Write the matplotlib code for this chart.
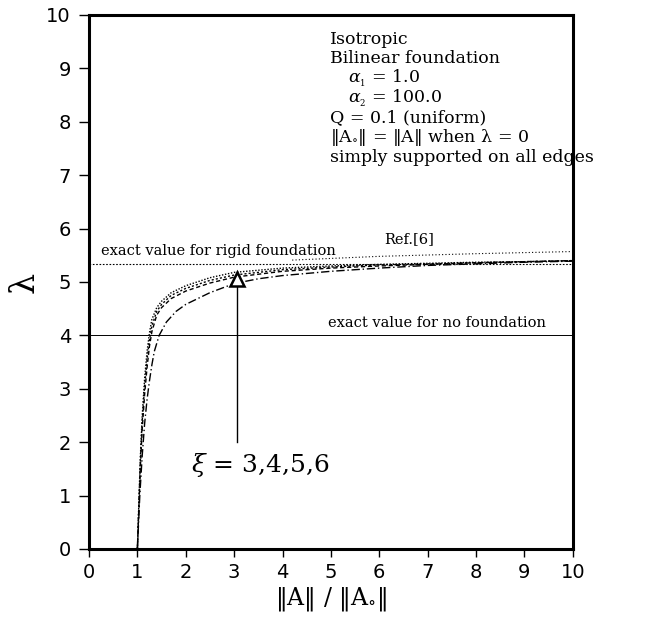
import matplotlib
matplotlib.use("Agg")
import matplotlib.pyplot as plt

plt.rcParams["mathtext.fontset"] = "dejavuserif"

# lambda vs ||A||/||A0|| for xi = 3,4,5,6
X6 = [1.0, 1.03, 1.06, 1.1, 1.15, 1.2, 1.25, 1.3, 1.4, 1.5, 1.7, 2.0, 2.5, 3.0, 4.0, 5.0, 6.0, 7.0, 8.0, 9.0, 10.0]
Y6 = [0.0, 0.85, 1.7, 2.5, 3.2, 3.7, 4.05, 4.3, 4.52, 4.64, 4.8, 4.93, 5.08, 5.18, 5.26, 5.3, 5.33, 5.35, 5.37, 5.38, 5.4]
X5 = [1.0, 1.03, 1.06, 1.1, 1.15, 1.2, 1.25, 1.3, 1.4, 1.5, 1.7, 2.0, 2.5, 3.0, 4.0, 5.0, 6.0, 7.0, 8.0, 9.0, 10.0]
Y5 = [0.0, 0.8, 1.6, 2.4, 3.05, 3.55, 3.92, 4.18, 4.45, 4.58, 4.75, 4.88, 5.03, 5.13, 5.23, 5.28, 5.32, 5.34, 5.36, 5.38, 5.4]
X4 = [1.0, 1.03, 1.06, 1.1, 1.15, 1.2, 1.25, 1.3, 1.4, 1.5, 1.7, 2.0, 2.5, 3.0, 4.0, 5.0, 6.0, 7.0, 8.0, 9.0, 10.0]
Y4 = [0.0, 0.75, 1.5, 2.25, 2.9, 3.4, 3.8, 4.07, 4.38, 4.52, 4.69, 4.83, 4.98, 5.09, 5.2, 5.26, 5.3, 5.33, 5.36, 5.38, 5.4]
X3 = [1.0, 1.05, 1.1, 1.15, 1.2, 1.25, 1.3, 1.35, 1.45, 1.6, 1.8, 2.0, 2.5, 3.0, 3.5, 4.0, 5.0, 6.0, 7.0, 8.0, 9.0, 10.0]
Y3 = [0.0, 1.0, 1.75, 2.35, 2.8, 3.15, 3.45, 3.7, 4.0, 4.25, 4.45, 4.58, 4.8, 4.97, 5.06, 5.12, 5.2, 5.26, 5.31, 5.34, 5.37, 5.39]

REF6_X = [4.2, 6.0, 8.0, 10.0]
REF6_Y = [5.41, 5.48, 5.53, 5.57]
RIGID = 5.33
NO_FOUNDATION = 4.0
TICKS = list(range(11))

SERIF = "DejaVu Serif"

fig = plt.figure(figsize=(6.45, 6.22), dpi=100)
ax = fig.add_axes([0.138, 0.1174, 0.750, 0.8585])

ax.plot([0, 10], [RIGID, RIGID], color="black", lw=0.8, ls=(0, (1.5, 1.5)))
ax.plot([0, 10], [NO_FOUNDATION, NO_FOUNDATION], color="black", lw=0.7)
ax.plot(REF6_X, REF6_Y, color="black", lw=0.8, ls=(0, (1, 2)))

curves = [(X6, Y6, (0, (1, 1.2))), (X5, Y5, (0, (1.5, 1.5))),
          (X4, Y4, (0, (3, 2))), (X3, Y3, (0, (6, 2, 1, 2)))]
for xs, ys, ls in curves:
    ax.plot(xs, ys, color="black", lw=1.0, ls=ls)

# arrow pointing at the curve family
ax.plot([3.05, 3.05], [2.0, 4.95], color="black", lw=1.0)
ax.plot([3.05], [5.05], marker="^", ms=10, mfc="white", mec="black", mew=1.8)

ax.set_xlim(0, 10)
ax.set_ylim(0, 10)
ax.set_xticks(TICKS)
ax.set_yticks(TICKS)
ax.tick_params(direction="out", length=6, width=1, labelsize=14, pad=4)
ax.tick_params(axis="y", length=7, pad=6)
for s in ax.spines.values():
    s.set_linewidth(2.2)

ax.set_ylabel("λ", fontsize=24, family=SERIF, labelpad=4)
ax.set_xlabel(r"$\Vert\mathrm{A}\Vert\ /\ \Vert\mathrm{A}_{\circ}\Vert$", fontsize=17, labelpad=2)

ax.text(0.25, RIGID + 0.17, "exact value for rigid foundation", fontsize=10.5, family=SERIF)
ax.text(6.1, 5.72, "Ref.[6]", fontsize=10.5, family=SERIF)
ax.text(4.95, NO_FOUNDATION + 0.15, "exact value for no foundation", fontsize=10.5, family=SERIF)
ax.text(2.1, 1.45, r"$\xi$ = 3,4,5,6", fontsize=18, family=SERIF)

lines = [
    (4.98, "Isotropic"),
    (4.98, "Bilinear foundation"),
    (5.35, r"$\alpha_{_1}$ = 1.0"),
    (5.35, r"$\alpha_{_2}$ = 100.0"),
    (4.98, "Q = 0.1 (uniform)"),
    (4.98, r"$\Vert\mathrm{A}_{\circ}\Vert$ = $\Vert\mathrm{A}\Vert$ when λ = 0"),
    (4.98, "simply supported on all edges"),
]
for i, (x0, t) in enumerate(lines):
    ax.text(x0, 9.55 - i * 0.37, t, fontsize=12.5, family=SERIF, va="center")

fig.savefig("out.png", dpi=100)
